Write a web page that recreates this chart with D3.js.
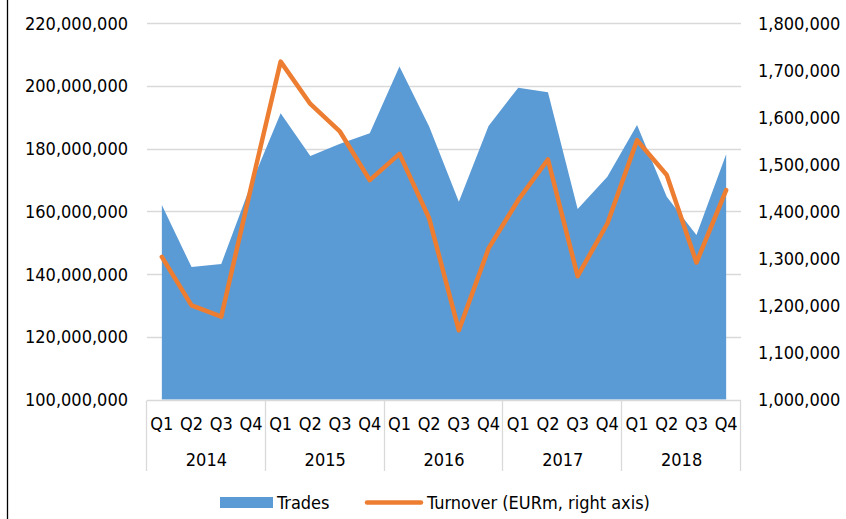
<!DOCTYPE html>
<html>
  <head>
    <meta charset="utf-8">
    <title>Trades and turnover</title>
    <script src="https://cdn.jsdelivr.net/npm/d3@7"></script>
    <style>
      body { margin: 0; background: #fff; }
      text { font-family: "DejaVu Sans Condensed", "DejaVu Sans", sans-serif; font-size: 18px; fill: #000; }
    </style>
  </head>
  <body>
    <div id="chart"></div>
    <script>
    var years = ['2014', '2015', '2016', '2017', '2018'];
    var quarters = ['Q1', 'Q2', 'Q3', 'Q4'];
    var trades = [
        162.0, 142.2, 143.2, 168.5,
        191.2, 177.6, 181.5, 184.9,
        206.1, 187.0, 163.0, 187.2,
        199.4, 197.9, 160.7, 171.0,
        187.5, 164.6, 152.4, 178.2
    ].map(function(v){ return v * 1e6; });
    var turnover = [
        1303, 1200, 1176, 1450,
        1718, 1628, 1569, 1466,
        1522, 1385, 1147, 1321,
        1424, 1510, 1262, 1374,
        1551, 1477, 1291, 1445
    ].map(function(v){ return v * 1000; });
    var leftTicks = [100e6, 120e6, 140e6, 160e6, 180e6, 200e6, 220e6];
    var rightTicks = [1.0e6, 1.1e6, 1.2e6, 1.3e6, 1.4e6, 1.5e6, 1.6e6, 1.7e6, 1.8e6];

    (function(){
        var W = 846, H = 519;
        var L = 147, R = 741, T = 23, B = 399.5;

        var cats = [];
        years.forEach(function(y){
            quarters.forEach(function(q){ cats.push(y + ' ' + q); });
        });

        var x = d3.scaleBand().domain(cats).range([L, R]);
        var yL = d3.scaleLinear().domain([100e6, 220e6]).range([B, T]);
        var yR = d3.scaleLinear().domain([1.0e6, 1.8e6]).range([B, T]);
        var fmt = d3.format(',');
        var cx = function(i){ return x(cats[i]) + x.bandwidth() / 2; };

        var svg = d3.select('#chart').append('svg')
            .attr('width', W)
            .attr('height', H);

        // frame edge on the left
        svg.append('line')
            .attr('x1', 7.5).attr('x2', 7.5)
            .attr('y1', 0).attr('y2', H)
            .attr('stroke', '#000').attr('stroke-width', 1.3);

        // gridlines
        svg.append('g').selectAll('line')
            .data(leftTicks.slice(1))
            .enter().append('line')
            .attr('x1', L).attr('x2', R)
            .attr('y1', function(d){ return Math.round(yL(d)) + 0.5; })
            .attr('y2', function(d){ return Math.round(yL(d)) + 0.5; })
            .attr('stroke', '#d9d9d9').attr('stroke-width', 1.3);

        // trades area
        var area = d3.area()
            .x(function(d, i){ return cx(i); })
            .y0(B)
            .y1(function(d){ return yL(d); });
        svg.append('path')
            .datum(trades)
            .attr('d', area)
            .attr('fill', '#5b9bd5');

        // category axis
        svg.append('line')
            .attr('x1', L).attr('x2', R)
            .attr('y1', B + 1).attr('y2', B + 1)
            .attr('stroke', '#d9d9d9').attr('stroke-width', 1.3);
        var sep = years.map(function(y, i){ return L + i * 4 * x.bandwidth(); });
        sep.push(R);
        svg.append('g').selectAll('line')
            .data(sep)
            .enter().append('line')
            .attr('x1', function(d){ return Math.round(d) - 0.5; })
            .attr('x2', function(d){ return Math.round(d) - 0.5; })
            .attr('y1', B + 1).attr('y2', 471)
            .attr('stroke', '#d9d9d9').attr('stroke-width', 1.3);

        svg.append('g').selectAll('text')
            .data(cats)
            .enter().append('text')
            .attr('x', function(d, i){ return cx(i); })
            .attr('y', 430)
            .attr('text-anchor', 'middle')
            .text(function(d){ return d.split(' ')[1]; });

        svg.append('g').selectAll('text')
            .data(years)
            .enter().append('text')
            .attr('x', function(d, i){ return (sep[i] + sep[i + 1]) / 2; })
            .attr('y', 466)
            .attr('text-anchor', 'middle')
            .text(function(d){ return d; });

        // turnover line
        var line = d3.line()
            .x(function(d, i){ return cx(i); })
            .y(function(d){ return yR(d); });
        svg.append('path')
            .datum(turnover)
            .attr('d', line)
            .attr('fill', 'none')
            .attr('stroke', '#ed7d31')
            .attr('stroke-width', 4.5)
            .attr('stroke-linejoin', 'round')
            .attr('stroke-linecap', 'round');

        // value axes
        svg.append('g').selectAll('text')
            .data(leftTicks)
            .enter().append('text')
            .attr('x', 128)
            .attr('y', function(d){ return yL(d) + 6.5; })
            .attr('text-anchor', 'end')
            .text(fmt);

        svg.append('g').selectAll('text')
            .data(rightTicks)
            .enter().append('text')
            .attr('x', 758)
            .attr('y', function(d){ return yR(d) + 6.5; })
            .text(fmt);

        // legend
        var lg = svg.append('g');
        lg.append('rect')
            .attr('x', 220).attr('y', 497)
            .attr('width', 53).attr('height', 11)
            .attr('fill', '#5b9bd5');
        lg.append('text')
            .attr('x', 277).attr('y', 509)
            .text('Trades');
        lg.append('line')
            .attr('x1', 367).attr('x2', 421)
            .attr('y1', 502.5).attr('y2', 502.5)
            .attr('stroke', '#ed7d31')
            .attr('stroke-width', 4.5)
            .attr('stroke-linecap', 'round');
        lg.append('text')
            .attr('x', 427).attr('y', 509)
            .text('Turnover (EURm, right axis)');
    })();
    </script>
  </body>
</html>
